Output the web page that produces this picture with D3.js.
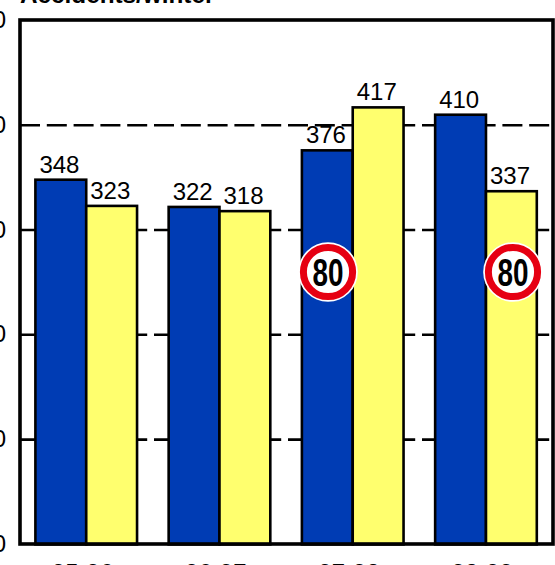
<!DOCTYPE html>
<html><head><meta charset="utf-8">
<script src="https://cdn.jsdelivr.net/npm/d3@7/dist/d3.min.js"></script>
<style>html,body{margin:0;padding:0;background:#fff;overflow:hidden}svg{display:block}text{font-family:"Liberation Sans",Arial,sans-serif}</style>
</head><body><svg id="c" width="555" height="565"></svg>
<script>
const yTitle = "Accidents/winter";
const categories = ["95-96","96-97","97-98","98-99"];
const seriesA = [348,322,376,410];
const seriesB = [323,318,417,337];
const yTicks = [0,100,200,300,400,500];
const signSpeed = "80";
const signCats = [{cat:"97-98",s:0,v:260},{cat:"98-99",s:1,v:260}];
const colorA = "#003cb4", colorB = "#ffff6e";

const svg = d3.select("#c");
const L=20,R=553,T=20,B=544;
const x = d3.scaleBand().domain(categories).range([L,R]);
const inner = d3.scaleBand().domain([0,1]).range([15.8,x.bandwidth()-15.8]);
const y = d3.scaleLinear().domain([0,500]).range([B,T]);

// gridlines
svg.append("g").selectAll("line").data(yTicks.filter(d=>d>0&&d<500)).join("line")
  .attr("x1",L).attr("x2",R).attr("y1",d=>y(d)+0.4).attr("y2",d=>y(d)+0.4)
  .attr("stroke","#000").attr("stroke-width",2.6).attr("stroke-dasharray","20 6.8");

// bars
const series=[seriesA,seriesB], cols=[colorA,colorB];
series.forEach((vals,s)=>{
  svg.append("g").selectAll("rect").data(vals).join("rect")
    .attr("x",(d,i)=>x(categories[i])+inner(s)-0.4)
    .attr("y",d=>y(d)+0.4).attr("width",inner.bandwidth())
    .attr("height",d=>y(0)-y(d))
    .attr("fill",cols[s]).attr("stroke","#000").attr("stroke-width",2.6);
  svg.append("g").selectAll("text").data(vals).join("text")
    .attr("x",(d,i)=>x(categories[i])+inner(s)+inner.bandwidth()/2-1.8)
    .attr("y",d=>y(d)-6.6).attr("text-anchor","middle")
    .attr("font-size",24).attr("fill","#000").text(d=>d);
});

// frame
svg.append("rect").attr("x",L).attr("y",T).attr("width",R-L).attr("height",B-T)
  .attr("fill","none").attr("stroke","#000").attr("stroke-width",3.6);

// axes labels
svg.append("g").selectAll("text").data(yTicks).join("text")
  .attr("x",6).attr("y",d=>y(d)+8).attr("text-anchor","end")
  .attr("font-size",24).text(d=>d);
svg.append("g").selectAll("text").data(categories).join("text")
  .attr("x",d=>x(d)+x.bandwidth()/2-4).attr("y",581).attr("text-anchor","middle")
  .attr("font-size",24).text(d=>d);
svg.append("text").attr("x",20).attr("y",3).attr("font-size",24.3).attr("font-weight","bold").text(yTitle);

// speed signs
signCats.forEach(c=>{
  const cx = x(c.cat)+inner(c.s)+inner.bandwidth()/2+(c.s===0?0.3:1.2), cy=y(c.v)+0.5;
  const g=svg.append("g").attr("transform",`translate(${cx},${cy})`);
  g.append("circle").attr("r",29.8).attr("fill","#fff");
  g.append("circle").attr("r",24.6).attr("fill","#fff").attr("stroke","#e60012").attr("stroke-width",7);
  g.append("text").attr("y",13.5).attr("text-anchor","middle")
    .attr("font-size",38).attr("font-weight","bold").attr("textLength",31).attr("lengthAdjust","spacingAndGlyphs").text(signSpeed);
});
</script></body></html>
